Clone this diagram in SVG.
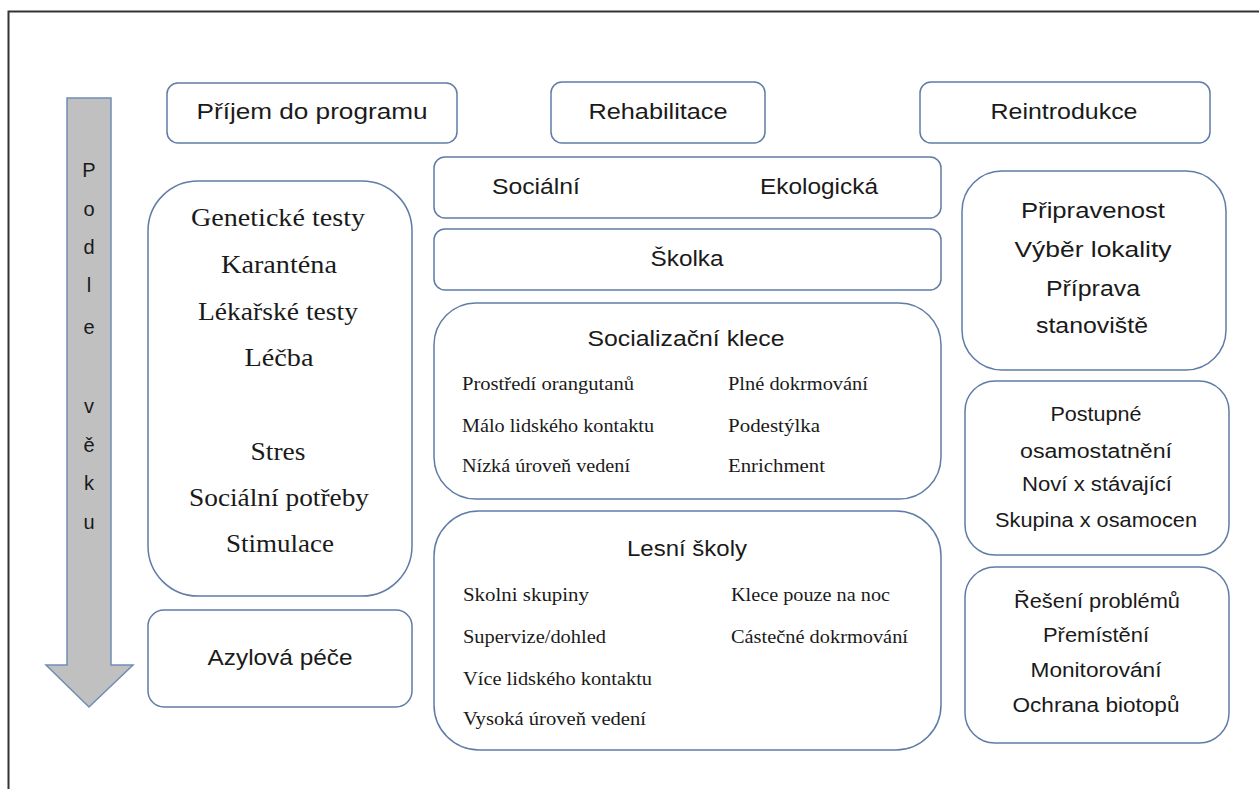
<svg xmlns="http://www.w3.org/2000/svg" width="1259" height="789" viewBox="0 0 1259 789">
<style>
.box{fill:#fff;stroke:#5e7ca6;stroke-width:1.5}
.s{font-family:"Liberation Sans",Arial,sans-serif;fill:#1a1a1a}
.r{font-family:"Liberation Serif","Times New Roman",serif;fill:#1a1a1a}
.c{text-anchor:middle}
</style>
<rect width="1259" height="789" fill="#fff"/>
<path d="M8.5 789 V11.5 H1259" fill="none" stroke="#333" stroke-width="2"/>
<g id="arrow">
<path d="M67 98 H111 V665 H133 L89 707 L46 665 H67 Z" fill="#c0c0c0" stroke="#6f8db5" stroke-width="1.5"/>
<g class="s c" font-size="20">
<text x="89" y="177">P</text><text x="89" y="216">o</text><text x="89" y="254">d</text><text x="89" y="292">l</text><text x="89" y="334">e</text>
<text x="89" y="413">v</text><text x="89" y="452">ě</text><text x="89" y="490">k</text><text x="89" y="529">u</text>
</g>
</g>
<g id="prijem"><rect class="box" x="167" y="83" width="290" height="60" rx="11"/><text class="s c" x="312" y="119" font-size="22" textLength="231" lengthAdjust="spacingAndGlyphs">Příjem do programu</text></g>
<g id="rehabilitace"><rect class="box" x="551" y="82" width="214" height="61" rx="11"/><text class="s c" x="658" y="119" font-size="22" textLength="139" lengthAdjust="spacingAndGlyphs">Rehabilitace</text></g>
<g id="reintrodukce"><rect class="box" x="920" y="82" width="290" height="61" rx="11"/><text class="s c" x="1064" y="119" font-size="22" textLength="147" lengthAdjust="spacingAndGlyphs">Reintrodukce</text></g>
<g id="socialni-ekologicka"><rect class="box" x="434" y="157" width="507" height="61" rx="11"/><text class="s" x="492" y="194" font-size="22" textLength="88" lengthAdjust="spacingAndGlyphs">Sociální</text><text class="s" x="760" y="194" font-size="22" textLength="118" lengthAdjust="spacingAndGlyphs">Ekologická</text></g>
<g id="skolka"><rect class="box" x="434" y="229" width="507" height="61" rx="11"/><text class="s c" x="687" y="266" font-size="22" textLength="73" lengthAdjust="spacingAndGlyphs">Školka</text></g>
<g id="socializacni-klece"><rect class="box" x="434" y="303" width="507" height="196" rx="42"/>
<text class="s c" x="686" y="346" font-size="22" textLength="197" lengthAdjust="spacingAndGlyphs">Socializační klece</text>
<g class="r" font-size="18" lengthAdjust="spacingAndGlyphs">
<text x="462" y="390" textLength="172" lengthAdjust="spacingAndGlyphs">Prostředí orangutanů</text><text x="462" y="432" textLength="192" lengthAdjust="spacingAndGlyphs">Málo lidského kontaktu</text><text x="462" y="472" textLength="168" lengthAdjust="spacingAndGlyphs">Nízká úroveň vedení</text>
<text x="728" y="390" textLength="140" lengthAdjust="spacingAndGlyphs">Plné dokrmování</text><text x="728" y="432" textLength="92" lengthAdjust="spacingAndGlyphs">Podestýlka</text><text x="728" y="472" textLength="97" lengthAdjust="spacingAndGlyphs">Enrichment</text>
</g></g>
<g id="lesni-skoly"><rect class="box" x="434" y="511" width="507" height="239" rx="45"/>
<text class="s c" x="687" y="556" font-size="22" textLength="120" lengthAdjust="spacingAndGlyphs">Lesní školy</text>
<g class="r" font-size="18">
<text x="463" y="601" textLength="126" lengthAdjust="spacingAndGlyphs">Skolni skupiny</text><text x="463" y="643" textLength="143" lengthAdjust="spacingAndGlyphs">Supervize/dohled</text><text x="463" y="685" textLength="189" lengthAdjust="spacingAndGlyphs">Více lidského kontaktu</text><text x="463" y="725" textLength="183" lengthAdjust="spacingAndGlyphs">Vysoká úroveň vedení</text>
<text x="731" y="601" textLength="159" lengthAdjust="spacingAndGlyphs">Klece pouze na noc</text><text x="731" y="643" textLength="177" lengthAdjust="spacingAndGlyphs">Cástečné dokrmování</text>
</g></g>
<g id="left-main"><rect class="box" x="148" y="181" width="264" height="415" rx="50"/>
<g class="r c" font-size="25">
<text x="278" y="226" textLength="174" lengthAdjust="spacingAndGlyphs">Genetické testy</text><text x="279" y="273" textLength="116" lengthAdjust="spacingAndGlyphs">Karanténa</text><text x="278" y="320" textLength="160" lengthAdjust="spacingAndGlyphs">Lékařské testy</text><text x="279" y="366" textLength="69" lengthAdjust="spacingAndGlyphs">Léčba</text>
<text x="278" y="460" textLength="55" lengthAdjust="spacingAndGlyphs">Stres</text><text x="279" y="506" textLength="180" lengthAdjust="spacingAndGlyphs">Sociální potřeby</text><text x="280" y="552" textLength="108" lengthAdjust="spacingAndGlyphs">Stimulace</text>
</g></g>
<g id="azylova-pece"><rect class="box" x="148" y="610" width="264" height="97" rx="16"/><text class="s c" x="280" y="665" font-size="22" textLength="145" lengthAdjust="spacingAndGlyphs">Azylová péče</text></g>
<g id="pripravenost"><rect class="box" x="962" y="171" width="264" height="199" rx="40"/>
<g class="s c" font-size="22"><text x="1093" y="218" textLength="144" lengthAdjust="spacingAndGlyphs">Připravenost</text><text x="1093" y="257" textLength="157" lengthAdjust="spacingAndGlyphs">Výběr lokality</text><text x="1093" y="296" textLength="94" lengthAdjust="spacingAndGlyphs">Příprava</text><text x="1092" y="333" textLength="112" lengthAdjust="spacingAndGlyphs">stanoviště</text></g></g>
<g id="postupne"><rect class="box" x="965" y="381" width="264" height="174" rx="30"/>
<g class="s c" font-size="20"><text x="1096" y="421" textLength="91" lengthAdjust="spacingAndGlyphs">Postupné</text><text x="1096" y="458" textLength="152" lengthAdjust="spacingAndGlyphs">osamostatnění</text><text x="1097" y="491" textLength="150" lengthAdjust="spacingAndGlyphs">Noví x stávající</text><text x="1096" y="527" textLength="202" lengthAdjust="spacingAndGlyphs">Skupina  x osamocen</text></g></g>
<g id="reseni"><rect class="box" x="965" y="567" width="264" height="176" rx="30"/>
<g class="s c" font-size="20"><text x="1097" y="608" textLength="166" lengthAdjust="spacingAndGlyphs">Řešení problémů</text><text x="1096" y="642" textLength="106" lengthAdjust="spacingAndGlyphs">Přemístění</text><text x="1096" y="677" textLength="131" lengthAdjust="spacingAndGlyphs">Monitorování</text><text x="1096" y="712" textLength="167" lengthAdjust="spacingAndGlyphs">Ochrana biotopů</text></g></g>
<g id="connectors"></g>
</svg>
